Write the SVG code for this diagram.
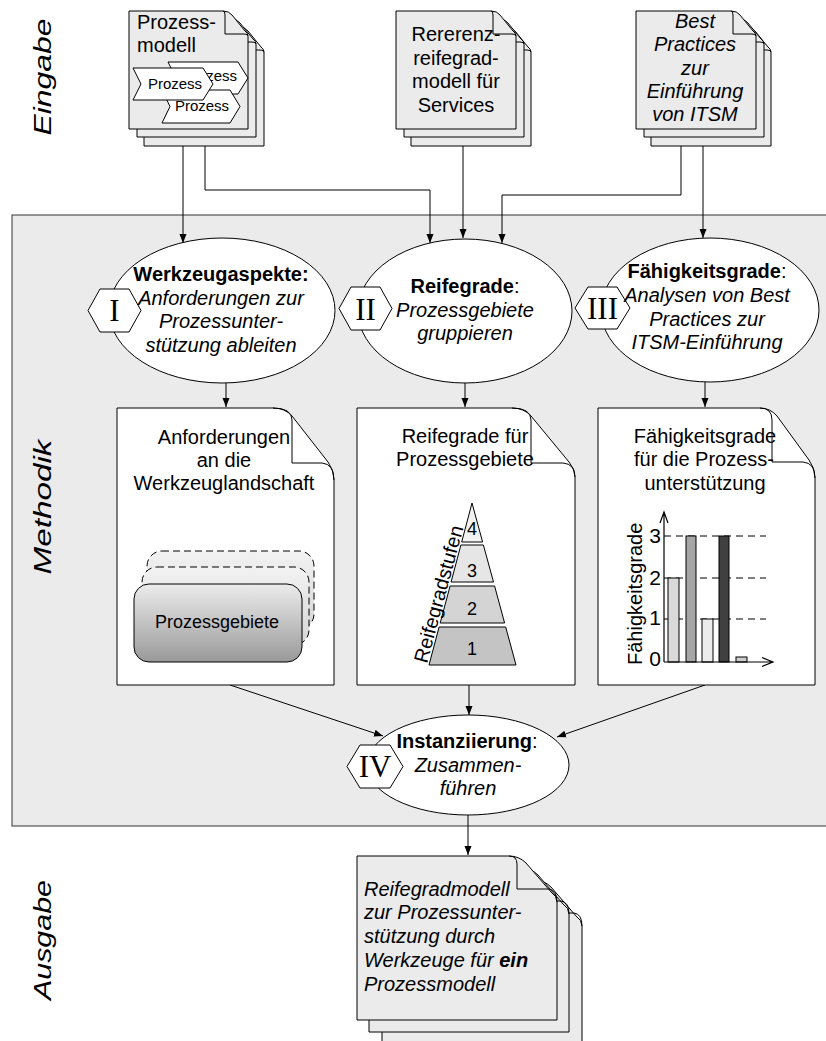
<svg xmlns="http://www.w3.org/2000/svg" width="826" height="1041" viewBox="0 0 826 1041">
<defs>
<style>
.t{font-family:"Liberation Sans",Arial,sans-serif;font-size:20px;fill:#000}
.i{font-style:italic}
.b{font-weight:bold}
.m{text-anchor:middle}
.ro{font-family:"Liberation Serif","Times New Roman",serif;font-size:31px;text-anchor:middle;fill:#000}
.pg{fill:#ebebeb;stroke:#000;stroke-width:1}
.pw{fill:#fff;stroke:#000;stroke-width:1}
.fold{fill:none;stroke:#000;stroke-width:1}
.ell{fill:#fff;stroke:#000;stroke-width:1}
.hex{fill:#fff;stroke:#000;stroke-width:1}
.cn{fill:none;stroke:#000;stroke-width:1;marker-end:url(#ah)}
.chev{fill:#fff;stroke:#000;stroke-width:1}
.grid{stroke:#000;stroke-width:1;stroke-dasharray:7,5}
.bar{stroke:#000;stroke-width:1}
</style>
<marker id="ah" markerWidth="9" markerHeight="8" refX="9" refY="4" orient="auto" markerUnits="userSpaceOnUse">
<path d="M0,0.5 L9,4 L0,7.5 Z" fill="#000"/>
</marker>
<linearGradient id="gFront" x1="0" y1="0" x2="0" y2="1">
<stop offset="0" stop-color="#ececec"/>
<stop offset="1" stop-color="#999"/>
</linearGradient>
<linearGradient id="gBack" x1="0" y1="0" x2="0" y2="1">
<stop offset="0" stop-color="#f2f2f2"/>
<stop offset="1" stop-color="#d6d6d6"/>
</linearGradient>
</defs>

<rect x="0" y="0" width="826" height="1041" fill="#fff"/>

<g id="methodik-frame">
<rect x="12" y="215" width="830" height="611" fill="#ebebeb" stroke="#333" stroke-width="1"/>
</g>

<g id="labels">
<text class="t i m" transform="translate(51,77) rotate(-90)" font-size="23" textLength="117" lengthAdjust="spacingAndGlyphs" style="font-size:23px">Eingabe</text>
<text class="t i m" transform="translate(51,507) rotate(-90)" font-size="23" textLength="135" lengthAdjust="spacingAndGlyphs" style="font-size:23px">Methodik</text>
<text class="t i m" transform="translate(51,940) rotate(-90)" font-size="23" textLength="120" lengthAdjust="spacingAndGlyphs" style="font-size:23px">Ausgabe</text>
</g>

<g id="connectors">
<path class="cn" d="M183 146 V243"/>
<path class="cn" d="M205 146 V190 H430 V243"/>
<path class="cn" d="M463 146 V238"/>
<path class="cn" d="M681 146 V195 H502 V243"/>
<path class="cn" d="M703 146 V238"/>
<path class="cn" d="M226 383 V407"/>
<path class="cn" d="M465 383 V407"/>
<path class="cn" d="M705 382 V407"/>
<path class="cn" d="M230 685 L383 736"/>
<path class="cn" d="M469 685 V715"/>
<path class="cn" d="M705 685 L557 737"/>
<path class="cn" d="M468 815 V855"/>
</g>

<g id="input-prozessmodell">
<path class="pg" d="M144 27 H239 Q245 27 248 31 L261 47 Q264 49 264 52 V146 H144 Z"/>
<path class="fold" d="M239 27 Q241 27 241 31 V50 H260 Q264 50 264 52"/>
<path class="pg" d="M137 19 H231 Q237 19 240 23 L253 39 Q256 41 256 44 V137 H137 Z"/>
<path class="fold" d="M231 19 Q233 19 233 23 V42 H252 Q256 42 256 44"/>
<path class="pg" d="M129 11 H223 Q229 11 232 15 L245 31 Q248 33 248 36 V129 H129 Z"/>
<path class="fold" d="M223 11 Q225 11 225 15 V34 H244 Q248 34 248 36"/>
<text class="t" x="137" y="29">Prozess-</text>
<text class="t" x="137" y="52">modell</text>
<polygon class="chev" points="168,62 238,62 248,78 238,94 168,94 176,78"/>
<text class="t m" x="210" y="81" style="font-size:15px">Prozess</text>
<polygon class="chev" points="162,90 230,90 240,106.5 230,123 162,123 170,106.5"/>
<text class="t m" x="202" y="111" style="font-size:15px">Prozess</text>
<polygon class="chev" points="133,68 203,68 213,84 203,100 133,100 141,84"/>
<text class="t m" x="175" y="89" style="font-size:15px">Prozess</text>
</g>

<g id="input-referenzmodell">
<path class="pg" d="M411 27 H506 Q512 27 515 31 L528 47 Q531 49 531 52 V146 H411 Z"/>
<path class="fold" d="M506 27 Q508 27 508 31 V50 H527 Q531 50 531 52"/>
<path class="pg" d="M404 19 H499 Q505 19 508 23 L521 39 Q524 41 524 44 V137 H404 Z"/>
<path class="fold" d="M499 19 Q501 19 501 23 V42 H520 Q524 42 524 44"/>
<path class="pg" d="M396 11 H491 Q497 11 500 15 L513 31 Q516 33 516 36 V129 H396 Z"/>
<path class="fold" d="M491 11 Q493 11 493 15 V34 H512 Q516 34 516 36"/>
<text class="t m" x="456" y="41">Rererenz-</text>
<text class="t m" x="456" y="64.5">reifegrad-</text>
<text class="t m" x="456" y="88">modell für</text>
<text class="t m" x="456" y="111.5">Services</text>
</g>

<g id="input-bestpractices">
<path class="pg" d="M651 27 H746 Q752 27 755 31 L768 47 Q771 49 771 52 V146 H651 Z"/>
<path class="fold" d="M746 27 Q748 27 748 31 V50 H767 Q771 50 771 52"/>
<path class="pg" d="M644 19 H739 Q745 19 748 23 L761 39 Q764 41 764 44 V137 H644 Z"/>
<path class="fold" d="M739 19 Q741 19 741 23 V42 H760 Q764 42 764 44"/>
<path class="pg" d="M636 11 H731 Q737 11 740 15 L753 31 Q756 33 756 36 V129 H636 Z"/>
<path class="fold" d="M731 11 Q733 11 733 15 V34 H752 Q756 34 756 36"/>
<text class="t i m" x="695" y="28">Best</text>
<text class="t i m" x="695" y="51.3">Practices</text>
<text class="t i m" x="695" y="74.6">zur</text>
<text class="t i m" x="695" y="98">Einführung</text>
<text class="t i m" x="695" y="121">von ITSM</text>
</g>

<g id="step-I">
<ellipse class="ell" cx="222" cy="310.5" rx="113" ry="72.5"/>
<polygon class="hex" points="88,310.5 100,289 129,289 141,310.5 129,332 100,332"/>
<text class="ro" x="114.5" y="321">I</text>
<text class="t b m" x="221" y="281">Werkzeugaspekte:</text>
<text class="t i m" x="221" y="304.5">Anforderungen zur</text>
<text class="t i m" x="221" y="328">Prozessunter-</text>
<text class="t i m" x="221" y="351.5">stützung ableiten</text>
</g>

<g id="step-II">
<ellipse class="ell" cx="465" cy="311" rx="107" ry="72"/>
<polygon class="hex" points="339,308.5 351,287 380,287 392,308.5 380,330 351,330"/>
<text class="ro" x="365.5" y="319.5">II</text>
<text class="t m" x="465" y="293"><tspan class="b">Reifegrade</tspan>:</text>
<text class="t i m" x="465" y="316.5">Prozessgebiete</text>
<text class="t i m" x="465" y="340">gruppieren</text>
</g>

<g id="step-III">
<ellipse class="ell" cx="710" cy="310" rx="109" ry="72"/>
<polygon class="hex" points="575,308 588,287 617,287 630,308 617,329 588,329"/>
<text class="ro" x="602.5" y="319">III</text>
<text class="t m" x="707" y="278"><tspan class="b">Fähigkeitsgrade</tspan>:</text>
<text class="t i m" x="707" y="302">Analysen von Best</text>
<text class="t i m" x="707" y="325.5">Practices zur</text>
<text class="t i m" x="707" y="349">ITSM-Einführung</text>
</g>

<g id="doc-anforderungen">
<path class="pw" d="M117 408 H273 Q285 408 292 416 L328 462 Q334 470 334 480 V685 H117 Z"/>
<path class="fold" d="M273 408 Q292 408 292 420 V463 H322 Q334 464 334 480"/>
<text class="t m" x="224" y="444">Anforderungen</text>
<text class="t m" x="224" y="467">an die</text>
<text class="t m" x="224" y="490">Werkzeuglandschaft</text>
<rect x="147" y="551" width="167" height="78" rx="15" fill="url(#gBack)" stroke="#000" stroke-dasharray="7,4"/>
<rect x="142" y="567" width="167" height="78" rx="15" fill="url(#gBack)" stroke="#000" stroke-dasharray="7,4"/>
<rect x="134" y="584" width="168" height="78" rx="15" fill="url(#gFront)" stroke="#000"/>
<text class="t m" x="217" y="628" style="font-size:18px">Prozessgebiete</text>
</g>

<g id="doc-reifegrade">
<path class="pw" d="M357 408 H512 Q524 408 531 416 L569 462 Q575 469 575 477 V685 H357 Z"/>
<path class="fold" d="M512 408 Q531 408 531 420 V463 H563 Q575 464 575 477"/>
<text class="t m" x="465" y="443">Reifegrade für</text>
<text class="t m" x="465" y="466">Prozessgebiete</text>
<polygon points="472,503 482.6,542 461.7,542" fill="#f2f2f2" stroke="#000"/>
<polygon points="460.9,545 483.4,545 493.5,582 451.1,582" fill="#e6e6e6" stroke="#000"/>
<polygon points="450.1,586 494.6,586 504.6,623 440.2,623" fill="#d4d4d4" stroke="#000"/>
<polygon points="439.1,627 505.7,627 516,665 429,665" fill="#c4c4c4" stroke="#000"/>
<text class="t m" x="472" y="535" style="font-size:18px">4</text>
<text class="t m" x="472" y="577" style="font-size:18px">3</text>
<text class="t m" x="472" y="615" style="font-size:18px">2</text>
<text class="t m" x="472" y="655" style="font-size:18px">1</text>
<text class="t" transform="translate(427,664) rotate(-75)">Reifegradstufen</text>
</g>

<g id="doc-faehigkeitsgrade">
<path class="pw" d="M598 408 H760 Q770 408 777 416 L809 460 Q815 468 815 478 V685 H598 Z"/>
<path class="fold" d="M760 408 Q772 408 772 420 V462 H803 Q815 463 815 478"/>
<text class="t m" x="705" y="443">Fähigkeitsgrade</text>
<text class="t m" x="704" y="466">für die Prozess-</text>
<text class="t m" x="705" y="490">unterstützung</text>
<line class="grid" x1="664" y1="536" x2="766" y2="536"/>
<line class="grid" x1="664" y1="578" x2="766" y2="578"/>
<line class="grid" x1="664" y1="619" x2="766" y2="619"/>
<rect class="bar" x="668" y="578" width="11" height="84" fill="#d9d9d9"/>
<rect class="bar" x="686" y="536" width="10" height="126" fill="#a6a6a6"/>
<rect class="bar" x="702" y="619" width="11" height="43" fill="#ececec"/>
<rect class="bar" x="719" y="536" width="10" height="126" fill="#404040"/>
<rect class="bar" x="736" y="657" width="11" height="5" fill="#cccccc"/>
<path d="M664 662 V512 M660 523 L664 512 L668 523" fill="none" stroke="#000" stroke-width="1.2"/>
<path d="M664 662 H773 M762 657.5 L773 662 L762 666.5" fill="none" stroke="#000" stroke-width="1.2"/>
<text class="t" x="661" y="543" text-anchor="end" style="font-size:21px">3</text>
<text class="t" x="661" y="585" text-anchor="end" style="font-size:21px">2</text>
<text class="t" x="661" y="625" text-anchor="end" style="font-size:21px">1</text>
<text class="t" x="661" y="666" text-anchor="end" style="font-size:21px">0</text>
<text class="t" transform="translate(642,665) rotate(-90)">Fähigkeitsgrade</text>
</g>

<g id="step-IV">
<ellipse class="ell" cx="468" cy="765" rx="101" ry="50"/>
<polygon class="hex" points="347,766.5 360,745 390,745 403,766.5 390,788 360,788"/>
<text class="ro" x="375" y="777">IV</text>
<text class="t m" x="467" y="747.5"><tspan class="b">Instanziierung</tspan>:</text>
<text class="t i m" x="468" y="771.5">Zusammen-</text>
<text class="t i m" x="468" y="795">führen</text>
</g>

<g id="output-reifegradmodell">
<path class="pg" d="M382 880 H534 Q544 880 551 887 L576 916 Q582 920 582 926 V1050 H382 Z"/>
<path class="fold" d="M534 880 Q542 880 542 888 V913 H574 Q582 914 582 926"/>
<path class="pg" d="M369 868 H521 Q531 868 538 875 L563 904 Q569 908 569 914 V1032 H369 Z"/>
<path class="fold" d="M521 868 Q529 868 529 876 V901 H561 Q569 902 569 914"/>
<path class="pg" d="M357 856 H509 Q519 856 526 863 L551 892 Q557 896 557 902 V1020 H357 Z"/>
<path class="fold" d="M509 856 Q517 856 517 864 V889 H549 Q557 890 557 902"/>
<text class="t i" x="364" y="896">Reifegradmodell</text>
<text class="t i" x="364" y="919">zur Prozessunter-</text>
<text class="t i" x="364" y="943">stützung durch</text>
<text class="t i" x="364" y="967">Werkzeuge für <tspan class="b">ein</tspan></text>
<text class="t i" x="364" y="991">Prozessmodell</text>
</g>
</svg>
